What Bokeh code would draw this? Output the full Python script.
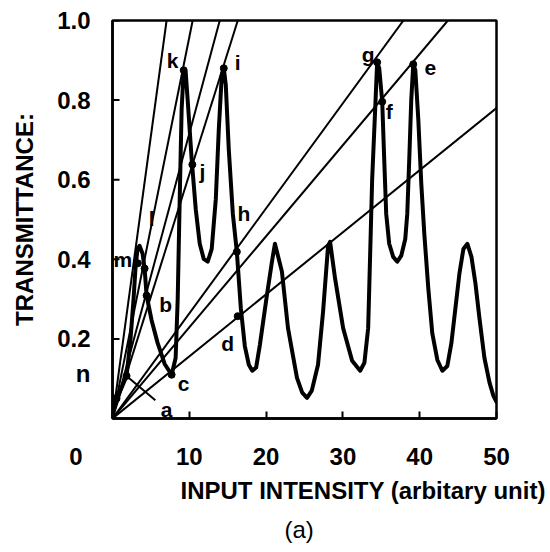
from bokeh.plotting import figure
from bokeh.models import Range1d, FixedTicker, Title
from bokeh.core.properties import value
from bokeh.embed import file_html
from bokeh.resources import INLINE

# ---- data ----
curve_x = [0.0, 0.52, 1.17, 1.83, 2.35, 2.74, 3.0, 3.26, 3.52, 3.92, 4.18, 4.44, 5.09, 5.87, 6.79, 7.7,
           8.22, 8.49, 8.75, 9.0, 9.27, 9.53, 9.79, 10.31, 10.84, 11.36, 11.88, 12.4, 12.92, 13.45, 13.84,
           14.23, 14.49, 14.75, 15.14, 15.67, 16.19, 16.71, 17.23, 17.75, 18.2, 18.7, 19.19, 20.1, 20.76,
           21.15, 22.06, 22.85, 24.02, 24.7, 25.33, 25.95, 26.76, 27.42, 28.07, 28.33, 28.98, 30.03, 31.2,
           32.25, 32.8, 33.29, 33.81, 34.2, 34.46, 34.73, 35.12, 35.38, 35.64, 36.03, 36.55, 37.08, 37.6,
           38.12, 38.38, 38.64, 38.9, 39.16, 39.43, 39.82, 40.21, 40.6, 41.12, 41.64, 42.3, 42.95, 43.6,
           44.13, 44.65, 45.17, 45.69, 46.21, 46.74, 47.26, 47.78, 48.43, 49.09, 49.6, 50.0]
curve_t = [0.02, 0.05, 0.077, 0.107, 0.20, 0.30, 0.38, 0.426, 0.434, 0.414, 0.377, 0.309, 0.247, 0.19, 0.137, 0.11,
           0.152, 0.30, 0.551, 0.776, 0.875, 0.87, 0.80, 0.651, 0.526, 0.439, 0.401, 0.394, 0.426, 0.551, 0.726,
           0.863, 0.88, 0.838, 0.676, 0.514, 0.419, 0.277, 0.182, 0.135, 0.12, 0.128, 0.185, 0.309, 0.394,
           0.439, 0.369, 0.227, 0.102, 0.065, 0.052, 0.07, 0.135, 0.269, 0.434, 0.444, 0.352, 0.227, 0.145,
           0.12, 0.14, 0.227, 0.601, 0.776, 0.895, 0.88, 0.796, 0.651, 0.514, 0.439, 0.406, 0.394, 0.409,
           0.451, 0.514, 0.651, 0.80, 0.89, 0.875, 0.751, 0.589, 0.464, 0.327, 0.214, 0.147, 0.12, 0.132,
           0.19, 0.277, 0.364, 0.426, 0.439, 0.406, 0.339, 0.252, 0.152, 0.09, 0.057, 0.042]

# slopes of the straight lines from the origin (transmittance per unit input)
line_slopes = [0.142, 0.0958, 0.0716, 0.0613, 0.0264, 0.0229, 0.0156]

point_names = ["a", "b", "c", "d", "e", "f", "g", "h", "i", "j", "k", "l", "m", "n"]
point_x = [1.83, 4.44, 7.7, 16.3, 39.16, 35.12, 34.46, 16.19, 14.49, 10.4, 9.27, 4.18, 3.3, 0.52]
point_t = [0.107, 0.309, 0.11, 0.257, 0.89, 0.796, 0.895, 0.419, 0.88, 0.638, 0.875, 0.377, 0.39, 0.05]

y_ticks = [0.2, 0.4, 0.6, 0.8, 1.0]
y_tick_labels = ["0.2", "0.4", "0.6", "0.8", "1.0"]
x_ticks = [0, 10, 20, 30, 40, 50]
x_tick_labels = ["0", "10", "20", "30", "40", "50"]

x_title = "INPUT INTENSITY (arbitary unit)"
y_title = "TRANSMITTANCE:"
panel_title = "(a)"

# ---- styles / positions of the point labels (screen px offsets, +x right, +y down) ----
label_dx = {"a": 40, "b": 19, "c": 12, "d": -10, "e": 17, "f": 7, "g": -9, "h": 7,
            "i": 14, "j": 10, "k": -11, "l": 7, "m": -15, "n": -20}
label_dy = {"a": 34, "b": 9, "c": 9, "d": 27, "e": 4, "f": 10, "g": -8, "h": -38,
            "i": -6, "j": 7, "k": -10, "l": -50, "m": -4, "n": -25}
leader_names = ["n", "a"]
outside_names = ["n"]          # labels that sit left of the frame, drawn by the left axis

FONT = "Liberation Sans"
W, H = 548, 550
FRAME_L, FRAME_R, FRAME_T, FRAME_B = 112, 496, 20, 421
PX_X = (FRAME_R - FRAME_L) / 50.0
PX_Y = (FRAME_B - FRAME_T) / 1.0
TICK_LEN = 7

p = figure(width=W, height=H, x_range=Range1d(0, 50), y_range=Range1d(0, 1),
           output_backend="svg", toolbar_location=None,
           min_border_left=FRAME_L, min_border_right=W - FRAME_R,
           min_border_top=FRAME_T, min_border_bottom=H - FRAME_B)
p.background_fill_color = "white"
p.border_fill_color = "white"
p.outline_line_color = "black"
p.outline_line_width = 2.5
p.grid.visible = False

for ax in (p.xaxis[0], p.yaxis[0]):
    ax.axis_line_width = 2.5
    ax.axis_line_color = "black"
    ax.major_tick_in = TICK_LEN
    ax.major_tick_out = 0
    ax.major_tick_line_width = 2
    ax.minor_tick_line_color = None
    ax.major_label_text_font = FONT
    ax.major_label_text_font_size = "24px"
    ax.major_label_text_font_style = "bold"
    ax.major_label_text_color = "black"
    ax.axis_label_text_font = FONT
    ax.axis_label_text_font_size = "24px"
    ax.axis_label_text_font_style = "bold"
    ax.axis_label_text_color = "black"

# left axis: value labels plus the point label(s) that stand outside the frame
yt = list(y_ticks)
yo = {t: s for t, s in zip(y_ticks, y_tick_labels)}
for nm in outside_names:
    k = point_names.index(nm)
    ty = round(point_t[k] - label_dy[nm] / PX_Y, 3)
    yt.append(ty)
    yo[ty] = nm
p.yaxis.ticker = FixedTicker(ticks=yt)
p.yaxis.major_label_overrides = yo
p.yaxis.major_tick_line_color = None
p.yaxis.major_label_standoff = 22
p.yaxis.axis_label = y_title
p.yaxis.axis_label_standoff = 16
# inward tick marks for the value ticks only
p.segment(x0=[0] * len(y_ticks), y0=y_ticks, x1=[TICK_LEN / PX_X] * len(y_ticks), y1=y_ticks,
          line_color="black", line_width=2)

p.xaxis.ticker = FixedTicker(ticks=x_ticks)
xo = {t: s for t, s in zip(x_ticks, x_tick_labels)}
# the "0" in the original sits well left of the frame corner
xo[0] = x_tick_labels[0] + "\u00a0" * 11
p.xaxis.major_label_overrides = xo
p.xaxis.major_label_standoff = 24

# axis title and panel caption below the axis
t1 = Title(text=x_title, align="left", offset=68, standoff=4, text_font=FONT,
           text_font_size="24px", text_font_style="bold", text_color="black")
t2 = Title(text=panel_title, align="left", offset=172, standoff=16, text_font=FONT,
           text_font_size="24px", text_font_style="normal", text_color="black")
p.add_layout(t1, "below")
p.add_layout(t2, "below")

# straight lines from the origin
xs, ys = [], []
for s in line_slopes:
    xe = min(50.0, 1.0 / s)
    xs.append([0, xe])
    ys.append([0, s * xe])
p.multi_line(xs, ys, line_color="black", line_width=2)

# transmittance curve
p.line(curve_x, curve_t, line_color="black", line_width=4, line_join="round", line_cap="round")

# marked points
p.scatter(point_x, point_t, size=7, color="black")

# leaders from points toward their labels
lxs, lys = [], []
for nm in leader_names:
    k = point_names.index(nm)
    x0, y0 = point_x[k], point_t[k]
    lxs.append([x0, x0 + 0.72 * label_dx[nm] / PX_X])
    lys.append([y0, y0 - 0.72 * label_dy[nm] / PX_Y])
p.multi_line(lxs, lys, line_color="black", line_width=2)

inside = [k for k, n in enumerate(point_names) if n not in outside_names]
p.text(x=[point_x[k] for k in inside], y=[point_t[k] for k in inside],
       text=[point_names[k] for k in inside],
       x_offset=[label_dx[point_names[k]] for k in inside],
       y_offset=[label_dy[point_names[k]] for k in inside],
       text_font=value(FONT), text_font_size="21px", text_font_style="bold",
       text_align="center", text_baseline="middle", text_color="black")

open("out.html", "w").write(file_html(p, INLINE))
